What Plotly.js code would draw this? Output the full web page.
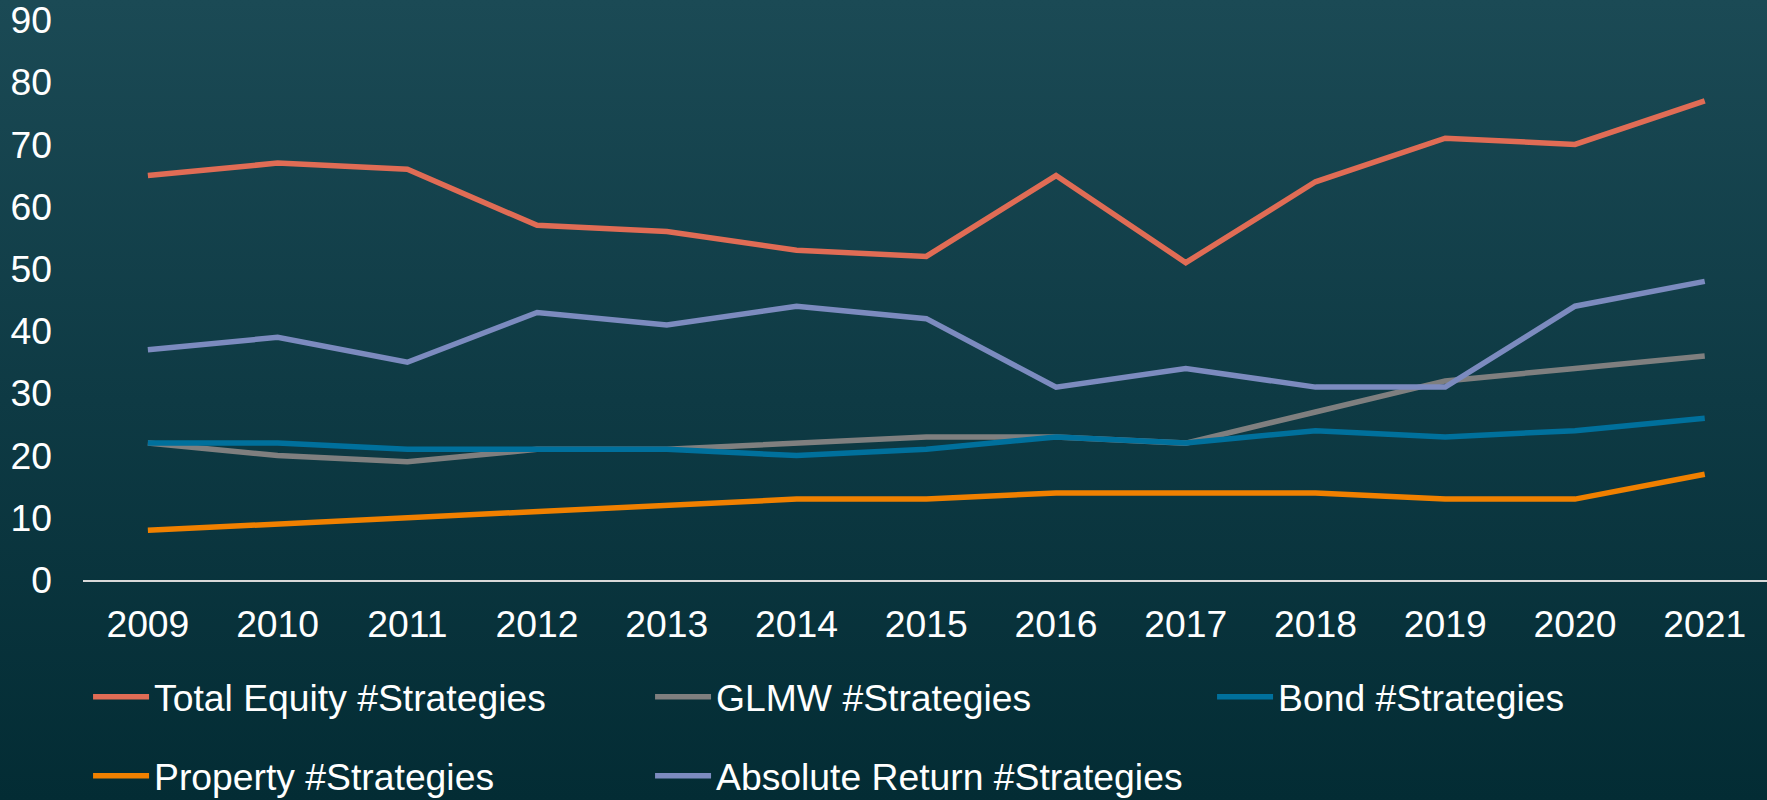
<!DOCTYPE html>
<html>
<head>
<meta charset="utf-8">
<script src="https://cdn.plot.ly/plotly-3.0.1.min.js"></script>
<style>
  html, body { margin: 0; padding: 0; }
  body { width: 1767px; height: 800px; background: linear-gradient(to bottom, #1b4a55 0%, #0e3a44 50%, #032c34 100%); }
  #chart { width: 1767px; height: 800px; }
</style>
</head>
<body>
<div id="chart"></div>
<script>
const years = ['2009','2010','2011','2012','2013','2014','2015','2016','2017','2018','2019','2020','2021'];
const totalEquity = [65, 67, 66, 57, 56, 53, 52, 65, 51, 64, 71, 70, 77];
const glmw = [22, 20, 19, 21, 21, 22, 23, 23, 22, 27, 32, 34, 36];
const bond = [22, 22, 21, 21, 21, 20, 21, 23, 22, 24, 23, 24, 26];
const property = [8, 9, 10, 11, 12, 13, 13, 14, 14, 14, 13, 13, 17];
const absoluteReturn = [37, 39, 35, 43, 41, 44, 42, 31, 34, 31, 31, 44, 48];
const yTicks = [0, 10, 20, 30, 40, 50, 60, 70, 80, 90];

const seriesNames = ['Total Equity #Strategies', 'GLMW #Strategies', 'Bond #Strategies', 'Property #Strategies', 'Absolute Return #Strategies'];
const seriesValues = [totalEquity, glmw, bond, property, absoluteReturn];
const seriesColors = ['#e06c55', '#7f7f7f', '#00709c', '#f08000', '#7c8bbf'];
const seriesLegend = ['legend', 'legend', 'legend', 'legend2', 'legend2'];

const order = [3, 1, 2, 4, 0];
const traces = order.map(i => ({
  type: 'scatter',
  mode: 'lines',
  x: years,
  y: seriesValues[i],
  name: seriesNames[i],
  legend: seriesLegend[i],
  legendrank: i + 1,
  line: { color: seriesColors[i], width: 5.5, shape: 'linear' },
  hoverinfo: 'x+y+name'
}));

const font = { family: '"Liberation Sans", Arial, sans-serif', size: 37.3, color: '#ffffff' };

const legendCommon = {
  orientation: 'h',
  x: 0.003,
  xanchor: 'left',
  yanchor: 'middle',
  entrywidth: 491,
  entrywidthmode: 'pixels',
  itemwidth: 56,
  font: font,
  bgcolor: 'rgba(0,0,0,0)',
  traceorder: 'normal',
  itemclick: false,
  itemdoubleclick: false
};

const layout = {
  width: 1767,
  height: 800,
  paper_bgcolor: 'rgba(0,0,0,0)',
  plot_bgcolor: 'rgba(0,0,0,0)',
  margin: { l: 83, r: 0, t: 20, b: 220, autoexpand: false },
  font: font,
  showlegend: true,
  xaxis: {
    type: 'category',
    range: [-0.5, 12.48],
    showline: true,
    linecolor: '#d9d9d9',
    linewidth: 2,
    showgrid: false,
    zeroline: false,
    ticks: '',
    ticklabelstandoff: 10,
    tickfont: font,
    automargin: false,
    fixedrange: true
  },
  yaxis: {
    range: [0, 90.0001],
    tickmode: 'array',
    tickvals: yTicks,
    ticktext: yTicks.map(String),
    ticklabeloverflow: 'allow',
    showline: false,
    showgrid: false,
    zeroline: false,
    ticks: '',
    ticklabelstandoff: 30,
    tickfont: font,
    automargin: false,
    fixedrange: true
  },
  legend: Object.assign({}, legendCommon, { y: -0.2089 }),
  legend2: Object.assign({}, legendCommon, { y: -0.35 })
};

Plotly.newPlot('chart', traces, layout, { displayModeBar: false });
</script>
</body>
</html>
